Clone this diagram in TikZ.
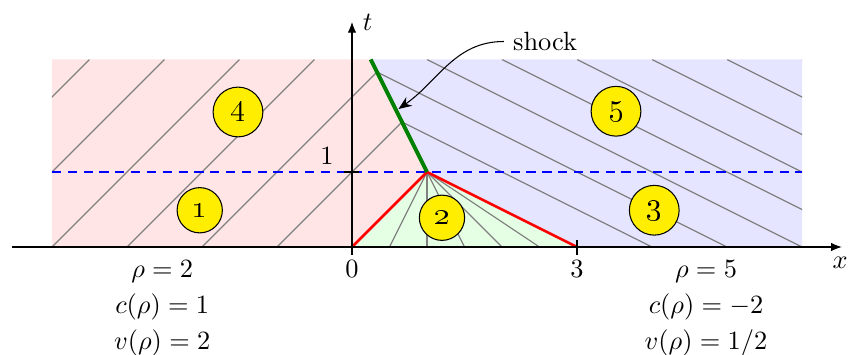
\documentclass[tikz,border=0pt]{standalone}
\usetikzlibrary{arrows.meta}
\definecolor{circyellow}{RGB}{255,238,0}
\definecolor{shockgreen}{RGB}{0,128,0}
\begin{document}
\begin{tikzpicture}[
  charline/.style={gray, line width=0.45pt},
  regnum/.style={circle, draw=black, fill=circyellow, inner sep=3.3pt, line width=0.4pt, font=\fontsize{11.5}{13}\selectfont},
  lab/.style={anchor=base, inner sep=0pt},
  axis/.style={-{Latex[length=4pt,width=3.2pt]}, line width=0.4pt},
]
\useasboundingbox (-4.693,-1.427) rectangle (6.653,3.293);
% regions
\fill[red!10] (-4,0) -- (0,0) -- (1,1) -- (0.25,2.5) -- (-4,2.5) -- cycle;
\fill[blue!10] (3,0) -- (6,0) -- (6,2.5) -- (0.25,2.5) -- (1,1) -- cycle;
\fill[green!10] (0,0) -- (3,0) -- (1,1) -- cycle;
% characteristics left
\begin{scope}
  \clip (-4,0) -- (0,0) -- (1,1) -- (0.25,2.5) -- (-4,2.5) -- cycle;
  \foreach \a in {-6,...,-1} \draw[charline] (\a,0) -- ++(2.5,2.5);
\end{scope}
% characteristics right
\begin{scope}
  \clip (3,0) -- (6,0) -- (6,2.5) -- (0.25,2.5) -- (1,1) -- cycle;
  \foreach \a in {4,...,11} \draw[charline] (\a,0) -- ++(-5,2.5);
\end{scope}
% fan
\foreach \a in {0.5,1,1.5,2,2.5} \draw[charline] (1,1) -- (\a,0);
% dashed line t=1
\draw[blue, line width=0.4pt, dash pattern=on 3.5pt off 2.5pt] (-4,1) -- (6,1);
% red lines
\draw[red, line width=1pt] (0,0) -- (1,1) -- (3,0);
% shock
\draw[shockgreen, line width=1.5pt] (1,1) -- (0.25,2.5);
% axes
\draw[axis] (-4.53,0) -- (6.53,0);
\draw[axis] (0,-0.1) -- (0,3.0);
\draw[line width=0.4pt] (3,-0.1) -- (3,0.1);
\draw[line width=0.4pt] (-0.1,1) -- (0.1,1);
\node[anchor=base west] (tl) at (0.02,2.89) {$t$};
\node[lab] (xl) at (6.51,-0.28) {$x$};
\node[anchor=south east] (one) at (-0.12,0.98) {$1$};
\node[lab] (zero) at (0,-0.4) {$0$};
\node[lab] (three) at (3,-0.4) {$3$};
% region numbers
\node[regnum] (c1) at (-2.03,0.49) {\oldstylenums{1}};
\node[regnum] (c2) at (1.2,0.39) {\oldstylenums{2}};
\node[regnum] (c3) at (4.03,0.49) {\oldstylenums{3}};
\node[regnum] (c4) at (-1.52,1.8) {\oldstylenums{4}};
\node[regnum] (c5) at (3.52,1.81) {\oldstylenums{5}};
% shock label
\node[anchor=base west] (shk) at (2.025,2.62) {shock};
\coordinate (sp) at (0.62,1.84);
\draw[-{Stealth[length=5pt,width=4pt]}, line width=0.4pt] (shk.west) to[out=180,in=35] (sp);
% bottom labels
\node[lab] (l1) at (-2.53,-0.4) {$\rho = 2$};
\node[lab] (l2) at (-2.53,-0.88) {$c(\rho) = 1$};
\node[lab] (l3) at (-2.53,-1.373) {$v(\rho) = 2$};
\node[lab] (r1) at (4.72,-0.4) {$\rho = 5$};
\node[lab] (r2) at (4.72,-0.88) {$c(\rho) = -2$};
\node[lab] (r3) at (4.72,-1.373) {$v(\rho) = 1/2$};
\end{tikzpicture}
\end{document}
